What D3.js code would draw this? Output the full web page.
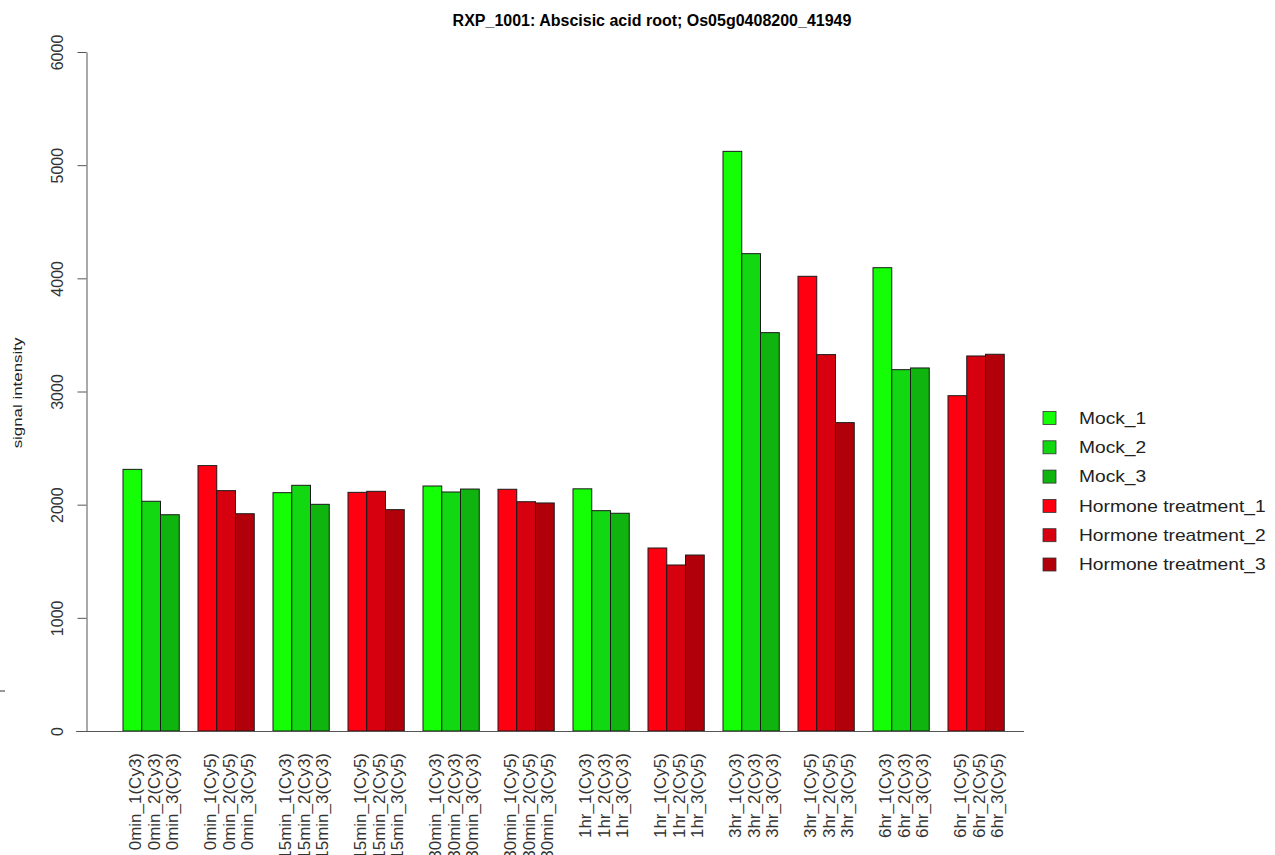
<!DOCTYPE html>
<html>
<head>
<meta charset="utf-8">
<script src="https://cdn.jsdelivr.net/npm/d3@7"></script>
<style>
    html, body { margin: 0; padding: 0; background: #fff; }
    svg { display: block; font-family: "Liberation Sans", Arial, sans-serif; }
</style>
</head>
<body>
<div id="chart"></div>
<script>
const title = "RXP_1001: Abscisic acid root; Os05g0408200_41949";
const yLabel = "signal intensity";

const seriesNames = ["Mock_1", "Mock_2", "Mock_3",
    "Hormone treatment_1", "Hormone treatment_2", "Hormone treatment_3"];
const seriesColors = ["#14ff05", "#12d812", "#10b40e", "#ff0010", "#d6000f", "#b1000a"];

const groupLabels = ["0min", "0min", "15min", "15min", "30min", "30min",
    "1hr", "1hr", "3hr", "3hr", "6hr", "6hr"];
const groupDyes = ["Cy3", "Cy5", "Cy3", "Cy5", "Cy3", "Cy5",
    "Cy3", "Cy5", "Cy3", "Cy5", "Cy3", "Cy5"];

// three replicates per group
const signal = [
    [2312, 2030, 1911],
    [2345, 2124, 1920],
    [2106, 2171, 2003],
    [2109, 2118, 1956],
    [2165, 2112, 2138],
    [2136, 2026, 2015],
    [2140, 1947, 1924],
    [1617, 1467, 1555],
    [5122, 4218, 3520],
    [4018, 3326, 2725],
    [4094, 3193, 3208],
    [2963, 3314, 3329]
];

const yTicks = [0, 1000, 2000, 3000, 4000, 5000, 6000];

const width = 1275;
const height = 855;

// flatten into bars; each group is 3 bars plus 1 unit of space before it
const bars = [];
signal.forEach(function (vals, g) {
    vals.forEach(function (v, j) {
        bars.push({
            unit: g * 4 + 1 + j,
            value: v,
            series: (g % 2) * 3 + j,
            label: groupLabels[g] + "_" + (j + 1) + "(" + groupDyes[g] + ")"
        });
    });
});

const x = d3.scaleLinear()
    .domain([0, 48])
    .range([104.25, 1004.25]);

const y = d3.scaleLinear()
    .domain([0, 6000])
    .range([731, 52]);

const svg = d3.select("#chart").append("svg")
    .attr("width", width)
    .attr("height", height);

// title
svg.append("text")
    .attr("x", 652)
    .attr("y", 26)
    .attr("text-anchor", "middle")
    .style("font-size", "16px")
    .style("font-weight", "bold")
    .text(title);

// bars
svg.selectAll(".bar")
    .data(bars)
    .enter().append("rect")
    .attr("class", "bar")
    .attr("x", function (d) { return x(d.unit); })
    .attr("y", function (d) { return y(d.value); })
    .attr("width", function (d) { return x(d.unit + 1) - x(d.unit); })
    .attr("height", function (d) { return y(0) - y(d.value); })
    .style("fill", function (d) { return seriesColors[d.series]; })
    .style("stroke", "#1a1a1a")
    .style("stroke-width", 1);

// baseline
svg.append("line")
    .attr("x1", x(-1.5))
    .attr("x2", x(49.05))
    .attr("y1", y(0) + 0.5)
    .attr("y2", y(0) + 0.5)
    .style("stroke", "#555")
    .style("stroke-width", 1);

// y axis
const yAxis = svg.append("g")
    .attr("transform", "translate(86.5,0)")
    .call(d3.axisLeft(y).tickValues(yTicks).tickFormat(d3.format("d"))
        .tickSize(9).tickSizeOuter(0).tickPadding(0));

yAxis.select(".domain").style("stroke", "#555");
yAxis.selectAll(".tick line").style("stroke", "#555");
yAxis.selectAll(".tick text")
    .attr("x", 0)
    .attr("dy", 0)
    .attr("text-anchor", "middle")
    .attr("transform", "translate(-23.5,0) rotate(-90)")
    .style("font-size", "16px")
    .style("font-family", "'Liberation Sans', Arial, sans-serif")
    .style("fill", "#333");

// y label
svg.append("text")
    .attr("transform", "translate(22,393) rotate(-90) scale(1.3,1)")
    .attr("text-anchor", "middle")
    .style("font-size", "13px")
    .style("fill", "#222")
    .text(yLabel);

// x labels
svg.selectAll(".xlabel")
    .data(bars)
    .enter().append("text")
    .attr("class", "xlabel")
    .attr("transform", function (d) {
        return "translate(" + (x(d.unit + 0.5) + 8.5) + ",753) rotate(-90)";
    })
    .attr("text-anchor", "end")
    .style("font-size", "17px")
    .style("fill", "#333")
    .text(function (d) { return d.label; });

// legend
const legend = svg.selectAll(".legend")
    .data(seriesNames)
    .enter().append("g")
    .attr("class", "legend")
    .attr("transform", function (d, i) { return "translate(1043," + (418 + i * 29.3) + ")"; });

legend.append("rect")
    .attr("x", 0)
    .attr("y", -6.5)
    .attr("width", 13)
    .attr("height", 13)
    .style("fill", function (d, i) { return seriesColors[i]; })
    .style("stroke", "#333")
    .style("stroke-width", 0.8);

legend.append("text")
    .attr("transform", "translate(36,0) scale(1.2,1)")
    .attr("dy", "0.35em")
    .style("font-size", "16px")
    .style("fill", "#222")
    .text(function (d) { return d; });

// small stray tick at the left edge
svg.append("line")
    .attr("x1", 0)
    .attr("x2", 5)
    .attr("y1", 691)
    .attr("y2", 691)
    .style("stroke", "#777")
    .style("stroke-width", 1.5);
</script>
</body>
</html>
